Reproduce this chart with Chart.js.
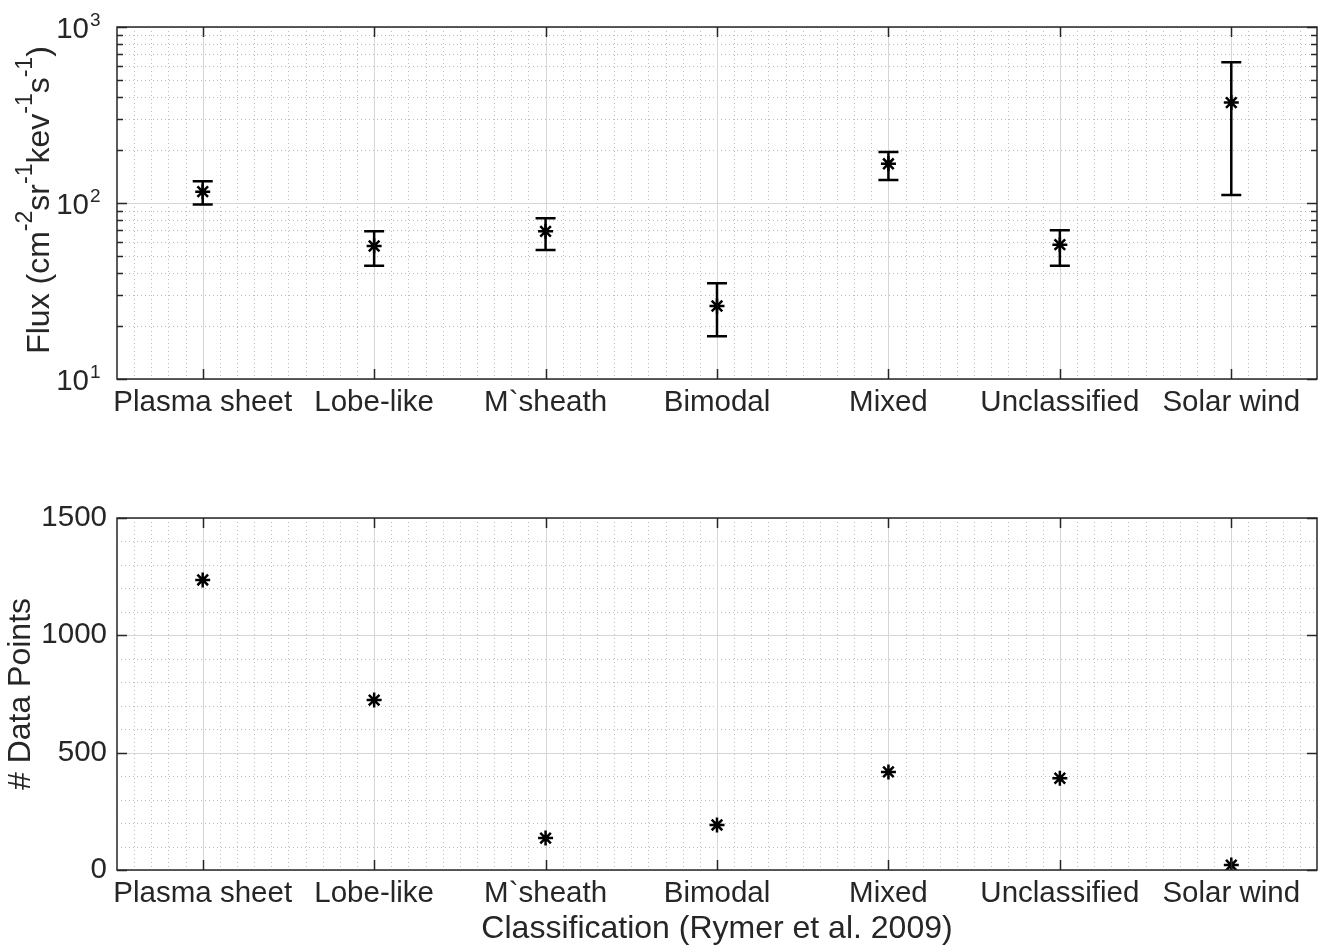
<!DOCTYPE html>
<html>
<head>
<meta charset="utf-8">
<script src="https://cdn.jsdelivr.net/npm/chart.js@4.4.0/dist/chart.umd.min.js"></script>
<style>
  html, body { margin: 0; padding: 0; background: #fff; }
  #wrap { position: relative; width: 1327px; height: 948px; overflow: hidden; }
  #fluxChart { position: absolute; left: 0; top: 0; }
  #countChart { position: absolute; left: 0; top: 470px; }
</style>
</head>
<body>
<div id="wrap">
  <canvas id="fluxChart" width="1327" height="470"></canvas>
  <canvas id="countChart" width="1327" height="478"></canvas>
</div>
<script>
// Categories (Rymer et al. 2009 classification)
const categories = ['Plasma sheet', 'Lobe-like', 'M`sheath', 'Bimodal', 'Mixed', 'Unclassified', 'Solar wind'];

// Flux: mean value and error bar limits
const fluxMean  = [116, 57, 69, 26, 167, 58, 372];
const fluxUpper = [133, 69, 82, 35, 195, 70, 630];
const fluxLower = [98, 44, 54, 17.5, 135, 44, 111];

// Number of data points per class
const pointCounts = [1236, 724, 136, 192, 418, 391, 21];

// Axis ticks
const fluxMajor = [10, 100, 1000];
const fluxMinor = [20, 30, 40, 50, 60, 70, 80, 90, 200, 300, 400, 500, 600, 700, 800, 900];
const countMajor = [0, 500, 1000, 1500];
const countMinor = [100, 200, 300, 400, 600, 700, 800, 900, 1100, 1200, 1300, 1400];

const INK = '#262626';
const FONT = '"Liberation Sans", Arial, Helvetica, sans-serif';
const TICK_PX = 29.5;
const LABEL_PX = 32;
const SUP_PX = 23;

// grid + box + inward ticks, matlab style
function frame(majorY, minorY, minorYTicks) {
    return {
        id: 'frame',
        beforeDatasetsDraw(chart) {
            const { ctx, chartArea: a, scales: { x, y } } = chart;
            ctx.save();
            ctx.lineWidth = 1;

            // minor dotted grid
            ctx.strokeStyle = '#bcbcbc';
            ctx.setLineDash([1, 3]);
            ctx.beginPath();
            for (let k = 1; k < categories.length * 10; k++) {
                if (k % 10 === 5) continue;
                const px = Math.round(x.getPixelForValue(-0.5 + k / 10)) + 0.5;
                ctx.moveTo(px, a.top);
                ctx.lineTo(px, a.bottom);
            }
            minorY.forEach(v => {
                const py = Math.round(y.getPixelForValue(v)) + 0.5;
                ctx.moveTo(a.left, py);
                ctx.lineTo(a.right, py);
            });
            ctx.stroke();

            // major solid grid
            ctx.setLineDash([]);
            ctx.strokeStyle = '#d6d6d6';
            ctx.beginPath();
            categories.forEach((c, i) => {
                const px = Math.round(x.getPixelForValue(i)) + 0.5;
                ctx.moveTo(px, a.top);
                ctx.lineTo(px, a.bottom);
            });
            majorY.forEach(v => {
                const py = Math.round(y.getPixelForValue(v)) + 0.5;
                ctx.moveTo(a.left, py);
                ctx.lineTo(a.right, py);
            });
            ctx.stroke();
            ctx.restore();
        },
        afterDatasetsDraw(chart) {
            const { ctx, chartArea: a, scales: { x, y } } = chart;
            ctx.save();
            ctx.strokeStyle = INK;
            ctx.lineWidth = 1.5;
            ctx.beginPath();
            // category ticks, top and bottom
            categories.forEach((c, i) => {
                const px = Math.round(x.getPixelForValue(i)) + 0.5;
                ctx.moveTo(px, a.bottom); ctx.lineTo(px, a.bottom - 10);
                ctx.moveTo(px, a.top); ctx.lineTo(px, a.top + 10);
            });
            const yt = (v, len) => {
                const py = Math.round(y.getPixelForValue(v)) + 0.5;
                ctx.moveTo(a.left, py); ctx.lineTo(a.left + len, py);
                ctx.moveTo(a.right, py); ctx.lineTo(a.right - len, py);
            };
            majorY.forEach(v => yt(v, 10));
            if (minorYTicks) minorY.forEach(v => yt(v, 6));
            ctx.stroke();
            ctx.strokeRect(a.left, a.top, a.right - a.left, a.bottom - a.top);
            ctx.restore();
        }
    };
}

// error bars for the flux panel
const errorBars = {
    id: 'errorBars',
    beforeDatasetsDraw(chart) {
        const { ctx, scales: { x, y } } = chart;
        ctx.save();
        ctx.strokeStyle = '#000';
        ctx.lineWidth = 2.5;
        ctx.beginPath();
        fluxMean.forEach((v, i) => {
            const px = x.getPixelForValue(i);
            const top = y.getPixelForValue(fluxUpper[i]);
            const bot = y.getPixelForValue(fluxLower[i]);
            ctx.moveTo(px, top); ctx.lineTo(px, bot);
            ctx.moveTo(px - 10, top); ctx.lineTo(px + 10, top);
            ctx.moveTo(px - 10, bot); ctx.lineTo(px + 10, bot);
        });
        ctx.stroke();
        ctx.restore();
    }
};

// text runs with superscripts, starting at (x0, 0)
function runFont(sup) {
    return (sup ? SUP_PX : LABEL_PX) + 'px ' + FONT;
}
function drawRuns(ctx, runs, x0, supRaise) {
    let cx = x0;
    runs.forEach(([txt, sup]) => {
        ctx.font = runFont(sup);
        ctx.fillText(txt, cx, sup ? -supRaise : 0);
        cx += ctx.measureText(txt).width;
    });
}
function runsWidth(ctx, runs) {
    let w = 0;
    runs.forEach(([txt, sup]) => {
        ctx.font = runFont(sup);
        w += ctx.measureText(txt).width;
    });
    return w;
}

// 10^n tick labels and the flux axis title
const fluxLabels = {
    id: 'fluxLabels',
    afterDraw(chart) {
        const { ctx, chartArea: a, scales: { y } } = chart;
        ctx.save();
        ctx.fillStyle = INK;
        ctx.textBaseline = 'alphabetic';
        ctx.textAlign = 'left';
        fluxMajor.forEach(v => {
            const py = y.getPixelForValue(v);
            const exp = String(Math.round(Math.log10(v)));
            ctx.font = TICK_PX + 'px ' + FONT;
            const w10 = ctx.measureText('10').width;
            ctx.fillText('10', 89 - w10, py + 11);
            ctx.font = '19px ' + FONT;
            ctx.fillText(exp, 90, py - 1);
        });

        const runs = [['Flux (cm', false], ['-2', true], ['sr', false], ['-1', true],
                      ['kev', false], ['-1', true], ['s', false], ['-1', true], [')', false]];
        const w = runsWidth(ctx, runs);
        ctx.translate(49, (a.top + a.bottom) / 2 - 3);
        ctx.rotate(-Math.PI / 2);
        drawRuns(ctx, runs, -w / 2, 17);
        ctx.restore();
    }
};

const starPoints = {
    showLine: false,
    pointStyle: 'star',
    pointRadius: 7.5,
    pointHoverRadius: 7.5,
    pointBorderWidth: 2.5,
    pointBorderColor: '#000',
    pointBackgroundColor: '#000'
};

const tickFont = { family: FONT, size: TICK_PX };
const labelFont = { family: FONT, size: LABEL_PX };

// Panel 1: flux (log scale) with error bars
new Chart(document.getElementById('fluxChart'), {
    type: 'line',
    data: {
        labels: categories,
        datasets: [Object.assign({ data: fluxMean }, starPoints)]
    },
    options: {
        responsive: false,
        animation: false,
        layout: { padding: { top: 27, right: 5, left: 0, bottom: 0 } },
        plugins: { legend: { display: false }, tooltip: { enabled: false } },
        scales: {
            x: {
                type: 'category',
                offset: true,
                grid: { display: false, drawTicks: false },
                border: { display: false },
                ticks: { color: INK, font: tickFont, padding: 6, maxRotation: 0, autoSkip: false },
                afterFit: s => { s.height = 91; }
            },
            y: {
                type: 'logarithmic',
                min: 10,
                max: 1000,
                grid: { display: false, drawTicks: false },
                border: { display: false },
                ticks: { display: false },
                afterFit: s => { s.width = 117; }
            }
        }
    },
    plugins: [frame(fluxMajor, fluxMinor, true), errorBars, fluxLabels]
});

// Panel 2: number of data points
new Chart(document.getElementById('countChart'), {
    type: 'line',
    data: {
        labels: categories,
        datasets: [Object.assign({ data: pointCounts }, starPoints)]
    },
    options: {
        responsive: false,
        animation: false,
        layout: { padding: { top: 48, right: 5, left: 0, bottom: 0 } },
        plugins: { legend: { display: false }, tooltip: { enabled: false } },
        scales: {
            x: {
                type: 'category',
                offset: true,
                grid: { display: false, drawTicks: false },
                border: { display: false },
                ticks: { color: INK, font: tickFont, padding: 6, maxRotation: 0, autoSkip: false },
                title: {
                    display: true,
                    text: 'Classification (Rymer et al. 2009)',
                    color: INK,
                    font: labelFont,
                    padding: { top: 0, bottom: 0 }
                },
                afterFit: s => { s.height = 78; }
            },
            y: {
                type: 'linear',
                min: 0,
                max: 1500,
                grid: { display: false, drawTicks: false },
                border: { display: false },
                ticks: {
                    color: INK, font: tickFont, padding: 10, stepSize: 500,
                    callback: v => String(v)
                },
                title: {
                    display: true,
                    text: '# Data Points',
                    color: INK,
                    font: labelFont,
                    padding: { top: 2, bottom: 0 }
                },
                afterFit: s => { s.width = 117; }
            }
        }
    },
    plugins: [frame(countMajor, countMinor, false)]
});
</script>
</body>
</html>
